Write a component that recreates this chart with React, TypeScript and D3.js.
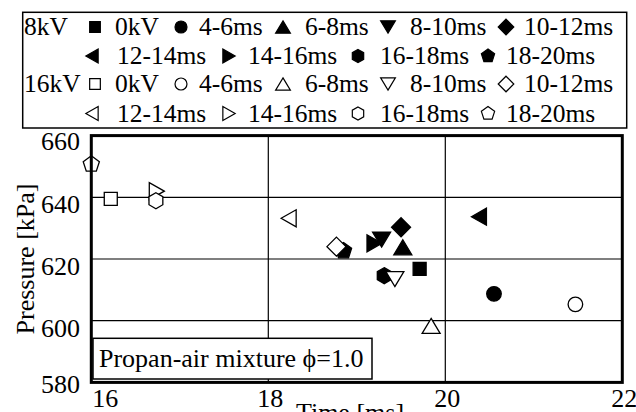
import React from "react";
import * as d3 from "d3";

const timeTicks = [16, 18, 20, 22];
const pressureTicks = [580, 600, 620, 640, 660];
const intervals = ["0kV", "4-6ms", "6-8ms", "8-10ms", "10-12ms", "12-14ms", "14-16ms", "16-18ms", "18-20ms"];
const shapes = ["square", "circle", "triUp", "triDown", "diamond", "triLeft", "triRight", "hexagon", "pentagon"];
const time8kV = [19.71, 20.55, 19.52, 19.28, 19.5, 20.38, 19.2, 19.31, 18.85];
const pressure8kV = [616.8, 608.7, 623.8, 626.3, 630.3, 633.7, 625.1, 614.6, 622.6];
const time16kV = [16.22, 21.47, 19.84, 19.43, 18.77, 18.23, 16.74, 16.73, 16.0];
const pressure16kV = [639.5, 605.3, 598.3, 613.5, 624.0, 633.2, 642.0, 638.9, 650.7];
const voltages = ["8kV", "16kV"];
const annotation = "Propan-air mixture \u03D5=1.0";

const FONT = "'Liberation Serif', 'Times New Roman', serif";

function polygon(n: number, r: number, start: number) {
  const pts: string[] = [];
  for (let i = 0; i < n; i++) {
    const a = ((start + (360 / n) * i) * Math.PI) / 180;
    pts.push(`${(r * Math.cos(a)).toFixed(2)},${(r * Math.sin(a)).toFixed(2)}`);
  }
  return "M" + pts.join("L") + "Z";
}

function markerPath(shape: string, k: number) {
  switch (shape) {
    case "square": {
      const s = 6.5 * k;
      return `M${-s},${-s}H${s}V${s}H${-s}Z`;
    }
    case "circle": {
      const r = 7.3 * k;
      return `M${r},0A${r},${r} 0 1,1 ${-r},0A${r},${r} 0 1,1 ${r},0Z`;
    }
    case "triUp": {
      const w = 9 * k, h = 7.5 * k;
      return `M0,${-h}L${w},${h}L${-w},${h}Z`;
    }
    case "triDown": {
      const w = 9 * k, h = 7.5 * k;
      return `M0,${h}L${w},${-h}L${-w},${-h}Z`;
    }
    case "triLeft": {
      const w = 7.5 * k, h = 8.5 * k;
      return `M${-w},0L${w},${-h}L${w},${h}Z`;
    }
    case "triRight": {
      const w = 7.5 * k, h = 8.5 * k;
      return `M${w},0L${-w},${-h}L${-w},${h}Z`;
    }
    case "diamond": {
      const d = 9.5 * k;
      return `M0,${-d}L${d},0L0,${d}L${-d},0Z`;
    }
    case "hexagon":
      return polygon(6, 8 * k, -90);
    case "pentagon":
      return polygon(5, 8.5 * k, -90);
  }
  return "";
}

export default function App() {
  const W = 636, H = 412;
  const x = d3.scaleLinear().domain([16, 22]).range([91.3, 622.3]);
  const y = d3.scaleLinear().domain([580, 660]).range([382.4, 135.6]);

  const series = [
    { name: voltages[0], t: time8kV, p: pressure8kV, fill: "#000" },
    { name: voltages[1], t: time16kV, p: pressure16kV, fill: "#fff" },
  ];

  // legend layout
  const slotA = [95, 181, 283, 388, 506];
  const textA = [115, 199, 305, 410, 524];
  const slotB = [92, 229, 358, 488];
  const textB = [117, 248, 380, 506];
  const rowBase = [35, 64, 92, 121.5];

  const legendRows: any[] = [];
  series.forEach((s, si) => {
    legendRows.push({ label: s.name, fill: s.fill, idx: [0, 1, 2, 3, 4], slots: slotA, texts: textA, base: rowBase[si * 2] });
    legendRows.push({ label: null, fill: s.fill, idx: [5, 6, 7, 8], slots: slotB, texts: textB, base: rowBase[si * 2 + 1] });
  });

  return (
    <svg width={W} height={H} style={{ position: "absolute", left: 0, top: 0, background: "#fff" }} fontFamily={FONT}>
      <rect x={0} y={0} width={W} height={H} fill="#fff" />
      {/* legend */}
      <rect x={22.7} y={12.3} width={604} height={115.7} fill="#fff" stroke="#000" strokeWidth={1.5} />
      {legendRows.map((row, ri) => (
        <g key={ri}>
          {row.label && (
            <text x={24} y={row.base} fontSize={25.5} fill="#000">{row.label}</text>
          )}
          {row.idx.map((i: number, j: number) => (
            <g key={i}>
              <path d={markerPath(shapes[i], 0.82)} transform={`translate(${row.slots[j]},${row.base - 8})`} fill={row.fill} stroke="#000" strokeWidth={1.2} />
              <text x={row.texts[j]} y={row.base} fontSize={25.5} fill="#000">{intervals[i]}</text>
            </g>
          ))}
        </g>
      ))}

      {/* grid */}
      {pressureTicks.slice(1, -1).map((p) => (
        <line key={p} x1={x(16)} x2={x(22)} y1={y(p)} y2={y(p)} stroke="#000" strokeWidth={1.2} />
      ))}
      {timeTicks.slice(1, -1).map((t) => (
        <line key={t} x1={x(t)} x2={x(t)} y1={y(660)} y2={y(580)} stroke="#000" strokeWidth={1.2} />
      ))}

      {/* annotation */}
      <rect x={93} y={338.3} width={279} height={40.7} fill="#fff" stroke="#000" strokeWidth={1.5} />
      <text x={99} y={367} fontSize={26} fill="#000">{annotation}</text>

      {/* points */}
      {series.map((s) => (
        <g key={s.name}>
          {s.t.map((t, i) => (
            <path key={i} d={markerPath(shapes[i], 1)} transform={`translate(${x(t)},${y(s.p[i])})`} fill={s.fill} stroke="#000" strokeWidth={1.3} />
          ))}
        </g>
      ))}

      {/* frame */}
      <rect x={x(16)} y={y(660)} width={x(22) - x(16)} height={y(580) - y(660)} fill="none" stroke="#000" strokeWidth={3} />

      {/* y tick labels */}
      {pressureTicks.map((p) => (
        <text key={p} x={80} y={y(p) + (p === 580 ? 11 : p === 660 ? 14.5 : 16)} fontSize={26} textAnchor="end" fill="#000">{p}</text>
      ))}
      {/* x tick labels */}
      {timeTicks.map((t) => (
        <text key={t} x={t === 16 ? x(t) + 1 : x(t) + 2} y={407} fontSize={26} textAnchor={t === 16 ? "start" : "middle"} fill="#000">{t}</text>
      ))}

      {/* axis titles */}
      <text transform="translate(34,259) rotate(-90)" fontSize={26} textAnchor="middle" fill="#000">Pressure [kPa]</text>
      <text x={350} y={421} fontSize={26} textAnchor="middle" fill="#000">Time [ms]</text>
    </svg>
  );
}
